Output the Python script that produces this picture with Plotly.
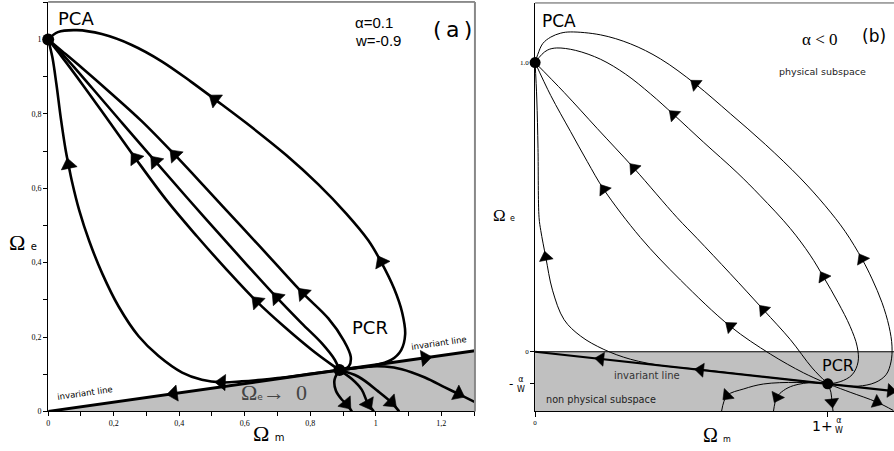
import math
import plotly.graph_objects as go

# ---------------- panel (a): alpha = 0.1, w = -0.9 ----------------
A_XMAX, A_YMAX = 1.3026, 1.101
a_crit_x = [0.0, 0.889]          # PCA, PCR
a_crit_y = [1.0, 0.111]

# trajectories, each listed in the direction of the flow
a_outer_x = [0.889, 0.9312, 0.9921, 1.0469, 1.0774, 1.0896, 1.0804, 1.0561, 1.0165, 0.9769,
             0.9098, 0.8245, 0.7271, 0.6205, 0.5087, 0.4377, 0.3463, 0.255, 0.1636, 0.0874,
             0.0295, 0.0]
a_outer_y = [0.111, 0.1164, 0.123, 0.1383, 0.1649, 0.2074, 0.266, 0.3298, 0.4016, 0.4601,
             0.5319, 0.6104, 0.6888, 0.7646, 0.8391, 0.8856, 0.9415, 0.9854, 1.0146, 1.0253,
             1.020, 1.0]
a_outer_arr = [8, 14]

a_left_x = [0.889, 0.80, 0.70, 0.652, 0.591, 0.530, 0.469, 0.409, 0.337, 0.276, 0.215,
            0.1651, 0.1255, 0.0950, 0.0722, 0.0621, 0.0539, 0.0387, 0.0250, 0.0128, 0.0]
a_left_y = [0.111, 0.101, 0.0895, 0.085, 0.0806, 0.0779, 0.0851, 0.1045, 0.149, 0.202, 0.282,
            0.3705, 0.4574, 0.5399, 0.6197, 0.6630, 0.6995, 0.7872, 0.8803, 0.9521, 1.0]
a_left_arr = [5, 15]

a_s1_x = [0.889, 0.866, 0.805, 0.7226, 0.637, 0.546, 0.454, 0.363, 0.266, 0.180, 0.104, 0.043, 0.0]
a_s1_y = [0.111, 0.125, 0.165, 0.226, 0.295, 0.380, 0.471, 0.566, 0.681, 0.787, 0.880, 0.952, 1.0]
a_s1_arr = [4, 8]

a_s2_x = [0.889, 0.8751, 0.8349, 0.774, 0.6981, 0.6071, 0.5151, 0.424, 0.3271, 0.226, 0.134,
          0.0579, 0.0]
a_s2_y = [0.111, 0.1383, 0.1835, 0.2367, 0.3059, 0.3936, 0.484, 0.5745, 0.6721, 0.7753, 0.8697,
          0.9468, 1.0]
a_s2_arr = [4, 8]

a_s3_x = [0.889, 0.9175, 0.9236, 0.9019, 0.855, 0.7779, 0.6829, 0.5909, 0.4849, 0.3868,
          0.2854, 0.194, 0.1026, 0.0417, 0.0]
a_s3_y = [0.111, 0.121, 0.1463, 0.191, 0.25, 0.3173, 0.4082, 0.496, 0.5971, 0.6896,
          0.7806, 0.8537, 0.9242, 0.9694, 1.0]
a_s3_arr = [5, 9]

a_d1_x = [0.889, 0.874, 0.878, 0.896, 0.910, 0.927]
a_d1_y = [0.111, 0.085, 0.056, 0.032, 0.0205, 0.0]
a_d2_x = [0.889, 0.927, 0.957, 0.976, 0.994]
a_d2_y = [0.111, 0.087, 0.0585, 0.0205, 0.0]
a_d3_x = [0.889, 0.947, 1.0064, 1.047, 1.0713]
a_d3_y = [0.111, 0.0931, 0.0545, 0.0247, 0.0]
a_d4_x = [0.889, 0.977, 1.028, 1.079, 1.150, 1.211, 1.252, 1.303]
a_d4_y = [0.111, 0.1205, 0.1205, 0.1136, 0.0912, 0.0646, 0.047, 0.0247]

# invariant line of panel (a), split at PCR
a_inv_l_x = [0.889, 0.383, 0.0]
a_inv_l_y = [0.111, 0.0479, 0.0]
a_inv_r_x = [0.889, 1.150, 1.3026]
a_inv_r_y = [0.111, 0.1438, 0.1628]

# ---------------- panel (b): alpha < 0 ----------------
B_XMAX, B_YMIN, B_YMAX = 1.3625, -0.2052, 1.2062
b_crit_x = [0.0, 1.111]
b_crit_y = [1.0, -0.111]

b1_x = [1.111, 1.158, 1.2261, 1.2905, 1.3322, 1.3511, 1.3549, 1.3436, 1.317, 1.2792, 1.2413,
        1.1769, 1.1011, 1.0064, 0.8739, 0.7413, 0.6087, 0.4761, 0.3625, 0.2489, 0.1352,
        0.0973, 0.0595, 0.0292, 0.0102, 0.0]
b1_y = [-0.111, -0.1156, -0.119, -0.1067, -0.0797, -0.0352, 0.0195, 0.0879, 0.17, 0.252, 0.3204,
        0.4162, 0.5051, 0.6009, 0.7172, 0.8232, 0.9258, 1.0127, 1.0646, 1.0958, 1.106,
        1.1019, 1.0882, 1.066, 1.0285, 1.0]
b1_arr = [10, 16]

b2_x = [1.111, 1.158, 1.2034, 1.2261, 1.2223, 1.1958, 1.1504, 1.0947, 1.0443, 0.9686, 0.8549,
        0.7667, 0.6402, 0.5265, 0.4383, 0.3436, 0.2489, 0.1542, 0.0822, 0.0481, 0.0254, 0.0]
b2_y = [-0.111, -0.1036, -0.0797, -0.0352, 0.0195, 0.0879, 0.17, 0.2589, 0.3341, 0.4265, 0.5393,
        0.6197, 0.724, 0.8198, 0.8916, 0.96, 1.0113, 1.0421, 1.0506, 1.0438, 1.0282, 1.0]
b2_arr = [7, 13]

b3_x = [1.111, 1.052, 0.969, 0.867, 0.741, 0.615, 0.539, 0.375, 0.236, 0.110, 0.0]
b3_y = [-0.111, -0.056, 0.042, 0.145, 0.270, 0.392, 0.464, 0.635, 0.772, 0.897, 1.0]
b3_arr = [3, 7]

b4_x = [1.111, 1.019, 0.893, 0.741, 0.552, 0.400, 0.261, 0.198, 0.135, 0.0595, 0.0]
b4_y = [-0.111, -0.0729, -0.0079, 0.0879, 0.248, 0.395, 0.561, 0.658, 0.761, 0.886, 1.0]
b4_arr = [3, 6]

b5_x = [1.111, 0.867, 0.615, 0.489, 0.3625, 0.261, 0.173, 0.110, 0.066, 0.0405, 0.0216,
        0.015, 0.011, 0.0064, 0.0]
b5_y = [-0.111, -0.0865, -0.060, -0.049, -0.026, 0.008, 0.054, 0.111, 0.213, 0.327, 0.419,
        0.464, 0.703, 0.874, 1.0]
b5_arr = [9]

b_e1_x = [1.111, 0.994, 0.867, 0.792, 0.729, 0.708]
b_e1_y = [-0.111, -0.106, -0.1115, -0.1286, -0.1515, -0.2052]
b_e2_x = [1.111, 1.057, 0.981, 0.943, 0.918, 0.905]
b_e2_y = [-0.111, -0.106, -0.117, -0.134, -0.157, -0.2052]
b_e3_x = [1.111, 1.123, 1.127, 1.131]
b_e3_y = [-0.111, -0.140, -0.174, -0.2052]
b_e4_x = [1.111, 1.196, 1.297, 1.36]
b_e4_y = [-0.111, -0.140, -0.174, -0.203]

b_inv_l_x = [1.111, 0.628, 0.249, 0.0]
b_inv_l_y = [-0.111, -0.0628, -0.0249, 0.0]
b_inv_r_x = [1.111, 1.35, 1.40]
b_inv_r_y = [-0.111, -0.135, -0.140]

W, H = 894, 451
GRAY = "#c0c0c0"

# subplot boxes in pixels (left, right, bottom, top measured from the top edge)
A_BOX = (46.3, 474.0, 416.0, 2.0)
B_BOX = (534.3, 894.0, 415.7, 3.0)
A_SCALE = ((A_BOX[1] - A_BOX[0]) / A_XMAX, (A_BOX[2] - A_BOX[3]) / A_YMAX)
B_SCALE = ((B_BOX[1] - B_BOX[0]) / B_XMAX, (B_BOX[2] - B_BOX[3]) / (B_YMAX - B_YMIN))

fig = go.Figure()


def path(xs, ys, ax, width, shape="spline"):
    xa, ya = ax
    fig.add_trace(go.Scatter(
        x=xs, y=ys, xaxis=xa, yaxis=ya, mode="lines",
        line=dict(color="black", width=width, shape=shape, smoothing=1.0),
        hoverinfo="skip", showlegend=False))


def arrows(xs, ys, idxs, ax, size, scale):
    """Arrowheads centred on the given points, pointing along the local flow."""
    xa, ya = ax
    sx, sy = scale
    px, py, sz = [], [], []
    for i in idxs:
        dxp = (xs[i + 1] - xs[i - 1]) * sx
        dyp = (ys[i + 1] - ys[i - 1]) * sy
        n = math.hypot(dxp, dyp)
        ux, uy = dxp / n, dyp / n
        px += [xs[i] - ux / sx, xs[i]]
        py += [ys[i] - uy / sy, ys[i]]
        sz += [0, size]
    fig.add_trace(go.Scatter(
        x=px, y=py, xaxis=xa, yaxis=ya, mode="markers",
        marker=dict(symbol="triangle-up", size=sz, color="black", opacity=1,
                    angleref="previous", line=dict(width=0.6, color="black")),
        hoverinfo="skip", showlegend=False))


AX_A = ("x", "y")
AX_B = ("x2", "y2")

# shaded region below the invariant line (a)
fig.add_trace(go.Scatter(
    x=[a_inv_l_x[-1], a_inv_r_x[-1], a_inv_r_x[-1], a_inv_l_x[-1]],
    y=[a_inv_l_y[-1], a_inv_r_y[-1], 0.0, a_inv_l_y[-1]],
    xaxis="x", yaxis="y", mode="lines", fill="toself", fillcolor=GRAY,
    line=dict(width=0), hoverinfo="skip", showlegend=False))

# non physical subspace (b)
fig.add_trace(go.Scatter(
    x=[0.0, B_XMAX, B_XMAX, 0.0, 0.0], y=[0.0, 0.0, B_YMIN, B_YMIN, 0.0],
    xaxis="x2", yaxis="y2", mode="lines", fill="toself", fillcolor=GRAY,
    line=dict(width=0), hoverinfo="skip", showlegend=False))
path([0.0, B_XMAX], [0.0, 0.0], AX_B, 1.0, "linear")

LW_A, AS_A = 2.6, 14
for xs, ys, idx in [(a_outer_x, a_outer_y, a_outer_arr), (a_left_x, a_left_y, a_left_arr),
                    (a_s1_x, a_s1_y, a_s1_arr), (a_s2_x, a_s2_y, a_s2_arr),
                    (a_s3_x, a_s3_y, a_s3_arr), (a_d1_x, a_d1_y, [4]), (a_d2_x, a_d2_y, [3]),
                    (a_d3_x, a_d3_y, [3]), (a_d4_x, a_d4_y, [6])]:
    path(xs, ys, AX_A, LW_A)
    arrows(xs, ys, idx, AX_A, AS_A, A_SCALE)
for xs, ys in [(a_inv_l_x, a_inv_l_y), (a_inv_r_x, a_inv_r_y)]:
    path(xs, ys, AX_A, 3.0, "linear")
    arrows(xs, ys, [1], AX_A, AS_A, A_SCALE)

LW_B, AS_B = 1.0, 12
for xs, ys, idx in [(b1_x, b1_y, b1_arr), (b2_x, b2_y, b2_arr), (b3_x, b3_y, b3_arr),
                    (b4_x, b4_y, b4_arr), (b5_x, b5_y, b5_arr), (b_e1_x, b_e1_y, [4]),
                    (b_e2_x, b_e2_y, [4]), (b_e3_x, b_e3_y, [2]), (b_e4_x, b_e4_y, [2])]:
    path(xs, ys, AX_B, LW_B)
    arrows(xs, ys, idx, AX_B, AS_B, B_SCALE)
path(b_inv_l_x, b_inv_l_y, AX_B, 2.2, "linear")
arrows(b_inv_l_x, b_inv_l_y, [1, 2], AX_B, AS_B, B_SCALE)
path(b_inv_r_x, b_inv_r_y, AX_B, 2.2, "linear")
arrows(b_inv_r_x, b_inv_r_y, [1], AX_B, AS_B, B_SCALE)

# critical points
for xs, ys, ax, s in [(a_crit_x, a_crit_y, AX_A, 12), (b_crit_x, b_crit_y, AX_B, 11)]:
    fig.add_trace(go.Scatter(
        x=xs, y=ys, xaxis=ax[0], yaxis=ax[1], mode="markers", cliponaxis=False,
        marker=dict(symbol="circle", size=s, color="black"),
        hoverinfo="skip", showlegend=False))

SANS = "DejaVu Sans"
SERIF = "Liberation Serif"
ann = []


def label(text, x, y, xref, yref, size, family=SANS, color="black", angle=0, xanchor="center"):
    ann.append(dict(text=text, x=x, y=y, xref=xref, yref=yref, showarrow=False,
                    font=dict(family=family, size=size, color=color), textangle=angle,
                    xanchor=xanchor, yanchor="middle"))


# panel (a) texts
label("PCA", 0.085, 1.057, "x", "y", 18)
label("α=0.1", 0.930, 1.0465, "x", "y", 15, "Liberation Sans", xanchor="left")
label("w=-0.9", 0.930, 0.997, "x", "y", 15, "Liberation Sans", xanchor="left")
label("(\u2009a\u2009)", 1.233, 1.027, "x", "y", 22)
label("PCR", 0.983, 0.2247, "x", "y", 18)
label("invariant line", 0.112, 0.0505, "x", "y", 8.5, angle=-8.2)
label("invariant line", 1.192, 0.184, "x", "y", 8.5, angle=-8.2)
label("Ω<span style='font-size:9px;font-family:DejaVu Sans'>e</span>→  0",
      0.6905, 0.050, "x", "y", 22, SERIF, color="#444")
label("Ω <span style='font-size:10px;font-family:DejaVu Sans'>e</span>",
      21 / W, 1 - 245 / H, "paper", "paper", 22, SERIF)
label("Ω <span style='font-size:10px;font-family:DejaVu Sans'>m</span>",
      268 / W, 1 - 438 / H, "paper", "paper", 22, SERIF)

# panel (b) texts
label("PCA", 0.0898, 1.1447, "x2", "y2", 17)
label("α < 0", 1.082, 1.0797, "x2", "y2", 17, SERIF)
label("(b)", 1.286, 1.0934, "x2", "y2", 17)
label("physical subspace", 1.0917, 0.970, "x2", "y2", 9.5, color="#222")
label("PCR", 1.1485, -0.0489, "x2", "y2", 16)
label("invariant line", 0.4258, -0.0831, "x2", "y2", 10, color="#333")
label("non physical subspace", 0.249, -0.165, "x2", "y2", 9.7, color="#222")
label("Ω <span style='font-size:8px;font-family:DejaVu Sans'>e</span>",
      503 / W, 1 - 218 / H, "paper", "paper", 17, SERIF)
label("Ω <span style='font-size:8px;font-family:DejaVu Sans'>m</span>",
      717 / W, 1 - 440 / H, "paper", "paper", 20, SERIF)
label("-", 510 / W, 1 - 388 / H, "paper", "paper", 12, SANS)
label("α<br>W", 520 / W, 1 - 389 / H, "paper", "paper", 8, SANS)
label("1+", 822 / W, 1 - 431 / H, "paper", "paper", 14, SANS)
label("α<br>W", 839 / W, 1 - 430 / H, "paper", "paper", 8, SANS)

tick_a = dict(family=SERIF, size=8, color="black")
axis_common = dict(showgrid=False, zeroline=False, showline=True, linecolor="black",
                   linewidth=1, ticks="outside", tickcolor="black", tickwidth=1, fixedrange=True)

fig.update_layout(
    width=W, height=H, margin=dict(l=0, r=0, t=0, b=0),
    paper_bgcolor="white", plot_bgcolor="white", separators=",.", showlegend=False,
    xaxis=dict(domain=[A_BOX[0] / W, A_BOX[1] / W], range=[0, A_XMAX], anchor="y",
               tick0=0, dtick=0.2, ticklen=4, tickfont=tick_a,
               minor=dict(dtick=0.1, ticks="outside", ticklen=4, tickcolor="black"),
               **axis_common),
    yaxis=dict(domain=[1 - A_BOX[2] / H, 1 - A_BOX[3] / H], range=[0, A_YMAX], anchor="x",
               tick0=0, dtick=0.2, ticklen=4, tickfont=tick_a,
               minor=dict(dtick=0.1, ticks="outside", ticklen=4, tickcolor="black"),
               **axis_common),
    xaxis2=dict(domain=[B_BOX[0] / W, B_BOX[1] / W], range=[0, B_XMAX], anchor="y2",
                tickvals=[0.0, b_crit_x[1]], ticktext=["0", " "], ticklen=5,
                tickfont=dict(family=SERIF, size=7, color="black"), **axis_common),
    yaxis2=dict(domain=[1 - B_BOX[2] / H, 1 - B_BOX[3] / H], range=[B_YMIN, B_YMAX], anchor="x2",
                tickvals=[1.0, 0.0, b_crit_y[1]], ticktext=["1.0", "0", " "], ticklen=4,
                tickfont=dict(family=SERIF, size=7, color="black"), **axis_common),
    annotations=ann,
    shapes=[
        dict(type="line", xref="x domain", yref="y domain", x0=0, x1=1, y0=1, y1=1,
             line=dict(color="#222", width=1)),
        dict(type="line", xref="x domain", yref="y domain", x0=1, x1=1, y0=0, y1=1,
             line=dict(color="#888", width=2)),
        dict(type="line", xref="x2 domain", yref="y2 domain", x0=0, x1=1, y0=1, y1=1,
             line=dict(color="#555", width=1)),
    ],
)

fig.write_html("out.html")
